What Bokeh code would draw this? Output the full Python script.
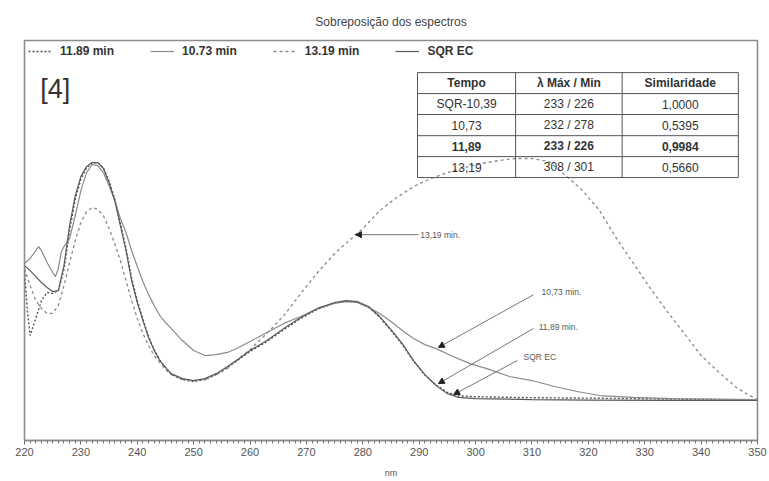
from bokeh.plotting import figure
from bokeh.models import (Range1d, Legend, LegendItem, Label, Arrow, NormalHead,
                          SingleIntervalTicker, ColumnDataSource)
from bokeh.core.properties import value
from bokeh.embed import file_html
from bokeh.resources import INLINE

# ---- spectra (wavelength in nm, relative absorbance) ----
sqr_nm = [220, 221, 222, 223, 224, 225, 226, 227, 228, 229, 230, 231, 232, 233, 234, 235,
          236, 237, 238, 239, 240, 241, 242, 243, 244, 245, 246, 248, 250, 252, 254, 256,
          258, 260, 263, 266, 269, 272, 275, 277, 279, 281, 283, 285, 287, 289, 291, 293,
          295, 297, 300, 310, 320, 335, 350]
sqr_abs = [0.567, 0.546, 0.521, 0.496, 0.475, 0.458, 0.462, 0.567, 0.735, 0.861, 0.941,
           0.983, 1.000, 1.000, 0.975, 0.916, 0.840, 0.735, 0.630, 0.504, 0.412, 0.336,
           0.265, 0.210, 0.168, 0.139, 0.113, 0.092, 0.084, 0.092, 0.113, 0.143, 0.176,
           0.210, 0.252, 0.303, 0.349, 0.387, 0.412, 0.420, 0.416, 0.395, 0.353, 0.298,
           0.239, 0.168, 0.109, 0.063, 0.029, 0.013, 0.008, 0.004, 0.002, 0.001, 0.000]

m1189_nm = [220, 220.5, 221, 222, 223, 224, 225, 226, 227, 228, 229, 230, 231, 232, 233,
            234, 235, 236, 237, 238, 239, 240, 241, 242, 243, 244, 245, 246, 248, 250, 252,
            254, 256, 258, 260, 263, 266, 269, 272, 275, 277, 279, 281, 283, 285, 287, 289,
            291, 293, 295, 297, 300, 310, 320, 335, 350]
m1189_abs = [0.546, 0.378, 0.273, 0.345, 0.420, 0.454, 0.450, 0.462, 0.550, 0.715, 0.845,
             0.930, 0.978, 0.998, 1.000, 0.978, 0.922, 0.848, 0.745, 0.640, 0.515, 0.420,
             0.342, 0.270, 0.214, 0.170, 0.139, 0.111, 0.088, 0.080, 0.088, 0.109, 0.139,
             0.172, 0.206, 0.248, 0.298, 0.345, 0.384, 0.410, 0.418, 0.414, 0.393, 0.350,
             0.294, 0.235, 0.165, 0.107, 0.065, 0.034, 0.020, 0.016, 0.012, 0.010, 0.006,
             0.002]

m1073_nm = [220, 221, 222, 222.5, 223, 224, 225, 225.5, 226, 226.5, 227, 228, 229, 230,
            231, 232, 233, 234, 235, 236, 237, 238, 239, 240, 241, 242, 243, 244, 245, 246,
            248, 250, 252, 254, 256, 258, 260, 263, 266, 269, 272, 275, 277, 279, 281, 283,
            285, 287, 289, 291, 293, 296, 299, 302, 306, 310, 314, 318, 322, 328, 335, 350]
m1073_abs = [0.576, 0.597, 0.630, 0.647, 0.630, 0.580, 0.538, 0.521, 0.555, 0.622, 0.647,
             0.681, 0.777, 0.882, 0.958, 0.992, 0.987, 0.958, 0.903, 0.840, 0.765, 0.706,
             0.630, 0.563, 0.500, 0.445, 0.399, 0.357, 0.328, 0.303, 0.252, 0.210, 0.189,
             0.193, 0.202, 0.223, 0.248, 0.286, 0.324, 0.353, 0.387, 0.408, 0.416, 0.412,
             0.391, 0.366, 0.332, 0.294, 0.261, 0.235, 0.218, 0.185, 0.155, 0.134, 0.101,
             0.084, 0.059, 0.038, 0.021, 0.013, 0.008, 0.004]

m1319_nm = [220, 221, 222, 223, 224, 225, 226, 227, 228, 229, 230, 231, 232, 233, 234, 235,
            236, 237, 238, 239, 240, 241, 242, 243, 244, 245, 246, 248, 250, 252, 254, 256,
            258, 260, 263, 266, 269, 272, 275, 278, 280, 283, 286, 289, 292, 295, 298, 301,
            304, 307, 310, 313, 316, 319, 322, 325, 328, 331, 334, 337, 340, 343, 346, 348,
            350]
m1319_abs = [0.555, 0.483, 0.420, 0.387, 0.366, 0.366, 0.399, 0.483, 0.580, 0.672, 0.748,
             0.794, 0.811, 0.803, 0.777, 0.723, 0.660, 0.588, 0.504, 0.420, 0.345, 0.282,
             0.231, 0.189, 0.160, 0.130, 0.109, 0.088, 0.084, 0.088, 0.109, 0.134, 0.176,
             0.214, 0.282, 0.357, 0.450, 0.538, 0.618, 0.681, 0.723, 0.798, 0.853, 0.899,
             0.933, 0.958, 0.979, 0.996, 1.008, 1.017, 1.017, 1.004, 0.945, 0.882, 0.798,
             0.681, 0.576, 0.471, 0.374, 0.282, 0.189, 0.122, 0.059, 0.029, 0.004]

# ---- summary table ----
table_header = ["Tempo", "\u03bb M\u00e1x / Min", "Similaridade"]
table_tempo = ["SQR-10,39", "10,73", "11,89", "13,19"]
table_lambda = ["233 / 226", "232 / 278", "233 / 226", "308 / 301"]
table_sim = ["1,0000", "0,5395", "0,9984", "0,5660"]
table_bold_row = 2

FONT = "Liberation Sans"

p = figure(width=769, height=481, output_backend="svg", toolbar_location=None,
           x_range=Range1d(220, 350), y_range=Range1d(-0.168, 1.513),
           min_border_left=24, min_border_right=12, min_border_top=40,
           min_border_bottom=41, background_fill_color="white",
           border_fill_color="white")

p.title.text = "Sobreposi\u00e7\u00e3o dos espectros"
p.title.align = "center"
p.title.text_font = FONT
p.title.text_font_size = "12px"
p.title.text_font_style = "normal"
p.title.text_color = "#444444"
p.title.standoff = 24

p.grid.visible = False
p.yaxis.visible = False
p.outline_line_color = "#8c8c8c"
p.outline_line_width = 1.6

ax = p.xaxis[0]
ax.ticker = SingleIntervalTicker(interval=10, num_minor_ticks=10)
ax.axis_line_color = "#8c8c8c"
ax.axis_line_width = 1.6
ax.major_tick_line_color = "#777777"
ax.minor_tick_line_color = "#777777"
ax.major_tick_in = 0
ax.major_tick_out = 4
ax.minor_tick_in = 0
ax.minor_tick_out = 3
ax.major_label_text_font = "Liberation Sans Narrow, Liberation Sans"
ax.major_label_text_font_size = "11px"
ax.major_label_text_color = "#555555"
ax.major_label_standoff = 3
ax.axis_label = "nm"
ax.axis_label_text_font = FONT
ax.axis_label_text_font_size = "9px"
ax.axis_label_text_font_style = "normal"
ax.axis_label_text_color = "#555555"
ax.axis_label_standoff = 9

# ---- spectra ----
r1189 = p.line(m1189_nm, m1189_abs, line_color="#555555", line_width=1.4, line_dash="2 2")
r1073 = p.line(m1073_nm, m1073_abs, line_color="#8a8a8a", line_width=1.2)
r1319 = p.line(m1319_nm, m1319_abs, line_color="#8a8a8a", line_width=1.3, line_dash="3 3")
rsqr = p.line(sqr_nm, sqr_abs, line_color="#5a5a5a", line_width=1.2)

legend = Legend(items=[LegendItem(label="11.89 min", renderers=[r1189]),
                       LegendItem(label="10.73 min", renderers=[r1073]),
                       LegendItem(label="13.19 min", renderers=[r1319]),
                       LegendItem(label="SQR EC", renderers=[rsqr])],
                orientation="horizontal", location="top_left",
                border_line_color=None, background_fill_alpha=0,
                margin=4, padding=2, spacing=36, glyph_width=24, glyph_height=10,
                label_standoff=8, label_text_font=FONT, label_text_font_size="12px",
                label_text_font_style="bold", label_text_color="#333333",
                label_height=12)
p.add_layout(legend, "center")

p.add_layout(Label(x=222.8, y=1.31, text="[4]", text_font=FONT, text_font_size="27px",
                   text_color="#333333", text_baseline="middle"))

# ---- arrow call-outs ----
callouts = [
    ("13,19 min.", 289.9, 0.697, 278.7, 0.697, 290.2, 0.697),
    ("10,73 min.", 310.3, 0.445, 293.4, 0.223, 311.7, 0.454),
    ("11,89 min.", 310.3, 0.303, 293.4, 0.071, 311.2, 0.311),
    ("SQR EC", 307.4, 0.168, 296.1, 0.025, 308.5, 0.181),
]
for txt, xs, ys, xe, ye, xl, yl in callouts:
    p.add_layout(Arrow(end=NormalHead(size=6, fill_color="#222222", line_color="#222222"),
                       x_start=xs, y_start=ys, x_end=xe, y_end=ye,
                       line_color="#666666", line_width=0.9))
    p.add_layout(Label(x=xl, y=yl, text=txt, text_font=FONT, text_font_size="8.5px",
                       text_color="#5a5a5a", text_baseline="middle"))

# ---- table ----
col_edges = [289.7, 307.1, 326.0, 346.6]
row_edges = [1.378, 1.290, 1.202, 1.113, 1.025, 0.937]
tbl_color = "#555555"
p.segment(x0=[col_edges[0]] * len(row_edges), x1=[col_edges[-1]] * len(row_edges),
          y0=row_edges, y1=row_edges, line_color=tbl_color, line_width=1)
p.segment(x0=col_edges, x1=col_edges, y0=[row_edges[0]] * len(col_edges),
          y1=[row_edges[-1]] * len(col_edges), line_color=tbl_color, line_width=1)

cell_x, cell_y, cell_t, cell_w = [], [], [], []
cols = [table_tempo, table_lambda, table_sim]
for c in range(3):
    cx = (col_edges[c] + col_edges[c + 1]) / 2
    cell_x.append(cx)
    cell_y.append((row_edges[0] + row_edges[1]) / 2)
    cell_t.append(table_header[c])
    cell_w.append("bold")
    for r in range(4):
        cell_x.append(cx)
        cell_y.append((row_edges[r + 1] + row_edges[r + 2]) / 2)
        cell_t.append(cols[c][r])
        cell_w.append("bold" if r == table_bold_row else "normal")

src = ColumnDataSource(dict(x=cell_x, y=cell_y, t=cell_t, w=cell_w))
p.text(x="x", y="y", text="t", source=src, text_font=value(FONT),
       text_font_size="12px", text_font_style="w", text_align="center",
       text_baseline="middle", text_color="#333333")

open("out.html", "w").write(file_html(p, INLINE))
